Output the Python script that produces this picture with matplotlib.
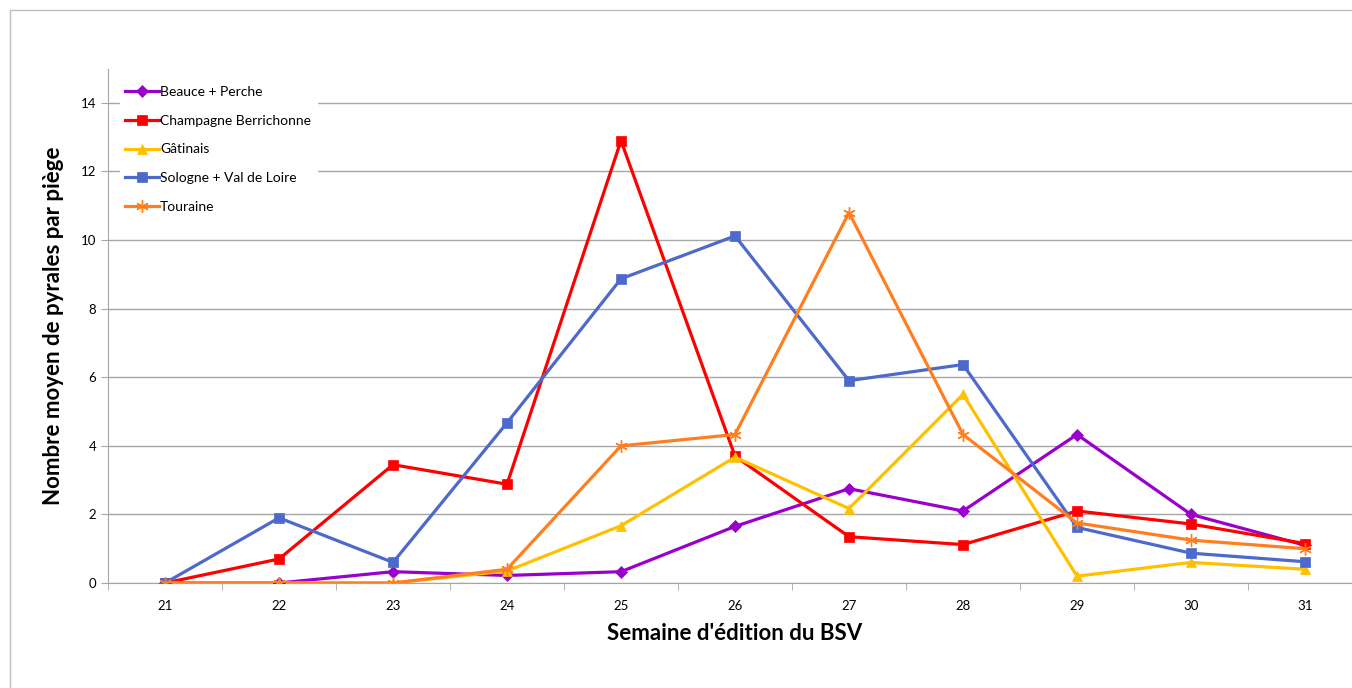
import matplotlib.pyplot as plt
from matplotlib.patches import Rectangle

plt.rcParams['font.family'] = ['Lato', 'DejaVu Sans']

weeks = [21, 22, 23, 24, 25, 26, 27, 28, 29, 30, 31]

beauce = [0, 0, 0.33, 0.22, 0.33, 1.65, 2.75, 2.1, 4.33, 2.0, 1.1]
champagne = [0, 0.7, 3.45, 2.88, 12.9, 3.7, 1.35, 1.12, 2.1, 1.72, 1.15]
gatinais = [0, 0, 0, 0.35, 1.67, 3.67, 2.17, 5.5, 0.2, 0.6, 0.4]
sologne = [0, 1.9, 0.6, 4.67, 8.87, 10.12, 5.9, 6.37, 1.62, 0.87, 0.62]
touraine = [0, 0, 0, 0.4, 4.0, 4.33, 10.8, 4.33, 1.75, 1.25, 1.0]

series = [
    ("Beauce + Perche", beauce, "#9900CC", "D", 6.5),
    ("Champagne Berrichonne", champagne, "#FF0000", "s", 7.5),
    ("Gâtinais", gatinais, "#FFC000", "^", 7.5),
    ("Sologne + Val de Loire", sologne, "#4D69CB", "s", 7.5),
    ("Touraine", touraine, "#FF7F20", (6, 2, 0), 9),
]

fig = plt.figure(figsize=(13.52, 6.88), dpi=100)
fig.patches.append(Rectangle((10 / 1352, -0.01), 1.02, 1 - 10 / 688 + 0.01,
                             transform=fig.transFigure, fill=False,
                             edgecolor="#BFBFBF", linewidth=1))
ax = fig.add_axes([108 / 1352, 1 - 583 / 688, 1254 / 1352, (583 - 68.6) / 688])

for name, vals, col, mk, ms in series:
    ax.plot(weeks, vals, color=col, linewidth=2.3, marker=mk, markersize=ms,
            markeredgewidth=1.0 if mk == (6, 2, 0) else 0.5, markeredgecolor=col,
            label=name, zorder=3)

ax.set_xlim(20.5, 31.5)
ax.set_ylim(0, 15)
ax.set_yticks(range(0, 15, 2))
ax.set_xticks(weeks)
ax.set_xticks([w - 0.5 for w in weeks] + [31.5], minor=True)
ax.tick_params(axis='x', which='major', length=0, labelsize=9.5, pad=12)
ax.tick_params(axis='x', which='minor', length=5, color="#A6A6A6")
ax.tick_params(axis='y', length=5, color="#A6A6A6", labelsize=9.5)
ax.grid(axis='y', color="#A6A6A6", linewidth=1)
ax.set_axisbelow(True)
for s in ['top', 'right']:
    ax.spines[s].set_visible(False)
for s in ['left', 'bottom']:
    ax.spines[s].set_color("#A6A6A6")

ax.set_xlabel("Semaine d'édition du BSV", fontsize=16, fontweight='bold', labelpad=8)
ax.set_ylabel("Nombre moyen de pyrales par piège", fontsize=16, fontweight='bold', labelpad=12)

leg = ax.legend(loc='upper left', bbox_to_anchor=(0.006, 0.985), frameon=True,
                fontsize=10, handlelength=2.4, handletextpad=0.1,
                labelspacing=1.2, borderaxespad=0.3)
leg.get_frame().set_edgecolor('white')
leg.get_frame().set_facecolor('white')
leg.get_frame().set_alpha(1)

fig.savefig("out.png", dpi=100)
